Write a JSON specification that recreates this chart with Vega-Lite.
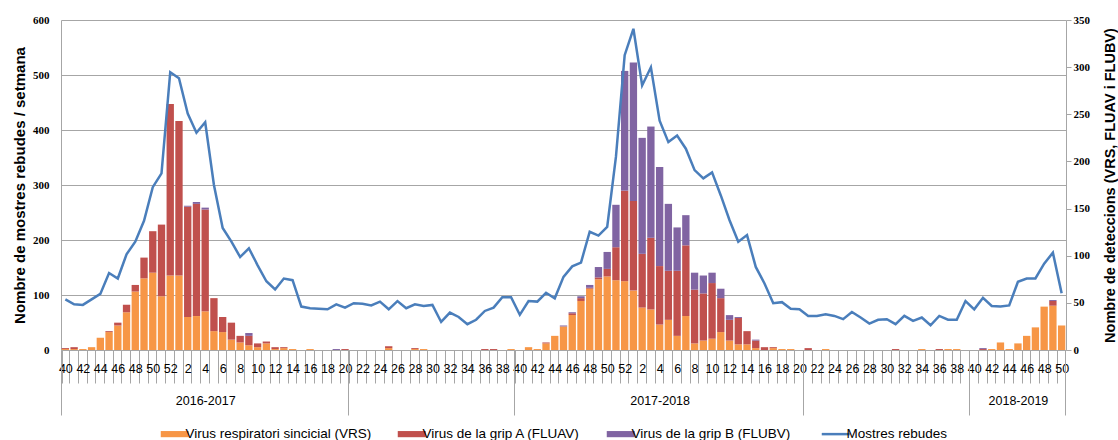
{
  "$schema": "https://vega.github.io/schema/vega-lite/v6.json",
  "width": 1005,
  "height": 330,
  "autosize": {"type": "none"},
  "padding": {"left": 61, "top": 20, "right": 52, "bottom": 90},
  "background": "white",
  "config": {
    "view": {"stroke": null},
    "font": "Liberation Sans",
    "axis": {"labelColor": "#000", "titleColor": "#000"}
  },
  "data": {
    "values": [
      {"k": "2016-40", "m": 92, "VRS": 1, "gripA": 1, "gripB": 0},
      {"k": "2016-41", "m": 83, "VRS": 1, "gripA": 2, "gripB": 0},
      {"k": "2016-42", "m": 82, "VRS": 1, "gripA": 0, "gripB": 0},
      {"k": "2016-43", "m": 92, "VRS": 3, "gripA": 0, "gripB": 0},
      {"k": "2016-44", "m": 102, "VRS": 13, "gripA": 0, "gripB": 0},
      {"k": "2016-45", "m": 140, "VRS": 19, "gripA": 1, "gripB": 0},
      {"k": "2016-46", "m": 130, "VRS": 26, "gripA": 3, "gripB": 0},
      {"k": "2016-47", "m": 174, "VRS": 40, "gripA": 8, "gripB": 0},
      {"k": "2016-48", "m": 197, "VRS": 62, "gripA": 7, "gripB": 0},
      {"k": "2016-49", "m": 235, "VRS": 76, "gripA": 22, "gripB": 0},
      {"k": "2016-50", "m": 296, "VRS": 82, "gripA": 44, "gripB": 0},
      {"k": "2016-51", "m": 321, "VRS": 57, "gripA": 76, "gripB": 0},
      {"k": "2016-52", "m": 505, "VRS": 79, "gripA": 182, "gripB": 0},
      {"k": "2017-01", "m": 494, "VRS": 79, "gripA": 164, "gripB": 0},
      {"k": "2017-02", "m": 430, "VRS": 35, "gripA": 117, "gripB": 1},
      {"k": "2017-03", "m": 395, "VRS": 36, "gripA": 119, "gripB": 2},
      {"k": "2017-04", "m": 414, "VRS": 41, "gripA": 108, "gripB": 2},
      {"k": "2017-05", "m": 300, "VRS": 20, "gripA": 35, "gripB": 0},
      {"k": "2017-06", "m": 222, "VRS": 19, "gripA": 16, "gripB": 0},
      {"k": "2017-07", "m": 197, "VRS": 11, "gripA": 18, "gripB": 0},
      {"k": "2017-08", "m": 169, "VRS": 8, "gripA": 7, "gripB": 0},
      {"k": "2017-09", "m": 185, "VRS": 5, "gripA": 10, "gripB": 3},
      {"k": "2017-10", "m": 154, "VRS": 3, "gripA": 4, "gripB": 0},
      {"k": "2017-11", "m": 125, "VRS": 7, "gripA": 2, "gripB": 0},
      {"k": "2017-12", "m": 110, "VRS": 1, "gripA": 2, "gripB": 0},
      {"k": "2017-13", "m": 130, "VRS": 2, "gripA": 1, "gripB": 0},
      {"k": "2017-14", "m": 127, "VRS": 1, "gripA": 0, "gripB": 0},
      {"k": "2017-15", "m": 79, "VRS": 0, "gripA": 0, "gripB": 0},
      {"k": "2017-16", "m": 76, "VRS": 1, "gripA": 0, "gripB": 0},
      {"k": "2017-17", "m": 75, "VRS": 0, "gripA": 0, "gripB": 0},
      {"k": "2017-18", "m": 74, "VRS": 0, "gripA": 0, "gripB": 0},
      {"k": "2017-19", "m": 83, "VRS": 0, "gripA": 0, "gripB": 1},
      {"k": "2017-20", "m": 77, "VRS": 0, "gripA": 1, "gripB": 0},
      {"k": "2017-21", "m": 85, "VRS": 0, "gripA": 0, "gripB": 0},
      {"k": "2017-22", "m": 84, "VRS": 0, "gripA": 0, "gripB": 0},
      {"k": "2017-23", "m": 81, "VRS": 0, "gripA": 0, "gripB": 0},
      {"k": "2017-24", "m": 88, "VRS": 0, "gripA": 0, "gripB": 0},
      {"k": "2017-25", "m": 74, "VRS": 2, "gripA": 2, "gripB": 0},
      {"k": "2017-26", "m": 89, "VRS": 0, "gripA": 0, "gripB": 0},
      {"k": "2017-27", "m": 76, "VRS": 0, "gripA": 0, "gripB": 0},
      {"k": "2017-28", "m": 83, "VRS": 1, "gripA": 1, "gripB": 0},
      {"k": "2017-29", "m": 80, "VRS": 1, "gripA": 0, "gripB": 0},
      {"k": "2017-30", "m": 82, "VRS": 0, "gripA": 0, "gripB": 0},
      {"k": "2017-31", "m": 51, "VRS": 0, "gripA": 0, "gripB": 0},
      {"k": "2017-32", "m": 68, "VRS": 0, "gripA": 0, "gripB": 0},
      {"k": "2017-33", "m": 60, "VRS": 0, "gripA": 0, "gripB": 0},
      {"k": "2017-34", "m": 47, "VRS": 0, "gripA": 0, "gripB": 0},
      {"k": "2017-35", "m": 55, "VRS": 0, "gripA": 0, "gripB": 0},
      {"k": "2017-36", "m": 71, "VRS": 0, "gripA": 1, "gripB": 0},
      {"k": "2017-37", "m": 77, "VRS": 0, "gripA": 1, "gripB": 0},
      {"k": "2017-38", "m": 96, "VRS": 0, "gripA": 0, "gripB": 0},
      {"k": "2017-39", "m": 96, "VRS": 1, "gripA": 0, "gripB": 0},
      {"k": "2017-40", "m": 64, "VRS": 0, "gripA": 0, "gripB": 0},
      {"k": "2017-41", "m": 89, "VRS": 3, "gripA": 0, "gripB": 0},
      {"k": "2017-42", "m": 88, "VRS": 1, "gripA": 0, "gripB": 0},
      {"k": "2017-43", "m": 104, "VRS": 7, "gripA": 1, "gripB": 0},
      {"k": "2017-44", "m": 94, "VRS": 15, "gripA": 0, "gripB": 0},
      {"k": "2017-45", "m": 133, "VRS": 25, "gripA": 0, "gripB": 1},
      {"k": "2017-46", "m": 152, "VRS": 37, "gripA": 2, "gripB": 1},
      {"k": "2017-47", "m": 159, "VRS": 52, "gripA": 3, "gripB": 2},
      {"k": "2017-48", "m": 215, "VRS": 65, "gripA": 1, "gripB": 3},
      {"k": "2017-49", "m": 208, "VRS": 75, "gripA": 2, "gripB": 11},
      {"k": "2017-50", "m": 224, "VRS": 78, "gripA": 8, "gripB": 18},
      {"k": "2017-51", "m": 351, "VRS": 74, "gripA": 35, "gripB": 45},
      {"k": "2017-52", "m": 536, "VRS": 73, "gripA": 96, "gripB": 127},
      {"k": "2018-01", "m": 584, "VRS": 63, "gripA": 95, "gripB": 147},
      {"k": "2018-02", "m": 481, "VRS": 45, "gripA": 57, "gripB": 123},
      {"k": "2018-03", "m": 514, "VRS": 43, "gripA": 76, "gripB": 118},
      {"k": "2018-04", "m": 417, "VRS": 27, "gripA": 62, "gripB": 105},
      {"k": "2018-05", "m": 378, "VRS": 32, "gripA": 52, "gripB": 71},
      {"k": "2018-06", "m": 390, "VRS": 15, "gripA": 69, "gripB": 46},
      {"k": "2018-07", "m": 366, "VRS": 36, "gripA": 75, "gripB": 32},
      {"k": "2018-08", "m": 327, "VRS": 7, "gripA": 57, "gripB": 18},
      {"k": "2018-09", "m": 312, "VRS": 10, "gripA": 50, "gripB": 19},
      {"k": "2018-10", "m": 323, "VRS": 12, "gripA": 59, "gripB": 11},
      {"k": "2018-11", "m": 281, "VRS": 19, "gripA": 36, "gripB": 10},
      {"k": "2018-12", "m": 236, "VRS": 10, "gripA": 22, "gripB": 5},
      {"k": "2018-13", "m": 197, "VRS": 6, "gripA": 28, "gripB": 1},
      {"k": "2018-14", "m": 209, "VRS": 6, "gripA": 14, "gripB": 0},
      {"k": "2018-15", "m": 151, "VRS": 2, "gripA": 8, "gripB": 1},
      {"k": "2018-16", "m": 121, "VRS": 0, "gripA": 3, "gripB": 0},
      {"k": "2018-17", "m": 85, "VRS": 2, "gripA": 1, "gripB": 0},
      {"k": "2018-18", "m": 87, "VRS": 1, "gripA": 0, "gripB": 0},
      {"k": "2018-19", "m": 75, "VRS": 1, "gripA": 0, "gripB": 0},
      {"k": "2018-20", "m": 74, "VRS": 0, "gripA": 0, "gripB": 0},
      {"k": "2018-21", "m": 62, "VRS": 0, "gripA": 2, "gripB": 0},
      {"k": "2018-22", "m": 62, "VRS": 0, "gripA": 0, "gripB": 0},
      {"k": "2018-23", "m": 65, "VRS": 1, "gripA": 0, "gripB": 0},
      {"k": "2018-24", "m": 62, "VRS": 0, "gripA": 0, "gripB": 0},
      {"k": "2018-25", "m": 56, "VRS": 0, "gripA": 0, "gripB": 0},
      {"k": "2018-26", "m": 69, "VRS": 0, "gripA": 0, "gripB": 0},
      {"k": "2018-27", "m": 59, "VRS": 0, "gripA": 0, "gripB": 0},
      {"k": "2018-28", "m": 48, "VRS": 0, "gripA": 0, "gripB": 0},
      {"k": "2018-29", "m": 55, "VRS": 0, "gripA": 0, "gripB": 0},
      {"k": "2018-30", "m": 56, "VRS": 0, "gripA": 0, "gripB": 0},
      {"k": "2018-31", "m": 47, "VRS": 0, "gripA": 1, "gripB": 0},
      {"k": "2018-32", "m": 62, "VRS": 0, "gripA": 0, "gripB": 0},
      {"k": "2018-33", "m": 53, "VRS": 0, "gripA": 0, "gripB": 0},
      {"k": "2018-34", "m": 59, "VRS": 1, "gripA": 0, "gripB": 0},
      {"k": "2018-35", "m": 45, "VRS": 0, "gripA": 0, "gripB": 0},
      {"k": "2018-36", "m": 62, "VRS": 0, "gripA": 1, "gripB": 0},
      {"k": "2018-37", "m": 55, "VRS": 1, "gripA": 0, "gripB": 0},
      {"k": "2018-38", "m": 55, "VRS": 1, "gripA": 0, "gripB": 0},
      {"k": "2018-39", "m": 89, "VRS": 0, "gripA": 0, "gripB": 0},
      {"k": "2018-40", "m": 74, "VRS": 0, "gripA": 0, "gripB": 0},
      {"k": "2018-41", "m": 95, "VRS": 0, "gripA": 1, "gripB": 1},
      {"k": "2018-42", "m": 80, "VRS": 1, "gripA": 0, "gripB": 0},
      {"k": "2018-43", "m": 79, "VRS": 8, "gripA": 0, "gripB": 0},
      {"k": "2018-44", "m": 81, "VRS": 1, "gripA": 0, "gripB": 0},
      {"k": "2018-45", "m": 124, "VRS": 7, "gripA": 0, "gripB": 0},
      {"k": "2018-46", "m": 130, "VRS": 15, "gripA": 0, "gripB": 0},
      {"k": "2018-47", "m": 130, "VRS": 24, "gripA": 0, "gripB": 0},
      {"k": "2018-48", "m": 157, "VRS": 46, "gripA": 0, "gripB": 0},
      {"k": "2018-49", "m": 177, "VRS": 47, "gripA": 5, "gripB": 1},
      {"k": "2018-50", "m": 103, "VRS": 26, "gripA": 0, "gripB": 0}
    ]
  },
  "layer": [
    {
      "transform": [{"fold": ["VRS", "gripA", "gripB"], "as": ["serie", "n"]}],
      "mark": {"type": "bar"},
      "encoding": {
        "x": {
          "field": "k",
          "type": "ordinal",
          "title": null,
          "scale": {"paddingInner": 0.16, "paddingOuter": 0.08},
          "axis": {
            "orient": "bottom",
            "tickBand": "extent",
            "tickSize": 33,
            "tickColor": "#a6a6a6",
            "domainColor": "#a6a6a6",
            "grid": false,
            "labelAngle": 0,
            "labelOverlap": false,
            "labelBound": false,
            "labelFont": "Liberation Sans",
            "labelFontSize": 12.5,
            "labelLineHeight": 32.5,
            "labelPadding": -21,
            "labelExpr": "!datum.value ? '' : datum.value === '2017-04' ? ['4', '2016-2017'] : datum.value === '2018-04' ? ['4', '2017-2018'] : datum.value === '2018-45' ? ['\u00a0', '2018-2019'] : (parseInt(slice(datum.value, 5)) % 2 === 0 ? '' + parseInt(slice(datum.value, 5)) : '')"
          }
        },
        "y": {
          "field": "n",
          "type": "quantitative",
          "stack": "zero",
          "scale": {"domain": [0, 350]},
          "axis": {
            "orient": "right",
            "values": [0, 50, 100, 150, 200, 250, 300, 350],
            "grid": false,
            "tickSize": 5,
            "tickColor": "#a6a6a6",
            "domainColor": "#a6a6a6",
            "labelFont": "Liberation Serif",
            "labelFontWeight": "bold",
            "labelFontSize": 11,
            "labelPadding": 2,
            "title": "Nombre de deteccions (VRS, FLUAV i FLUBV)",
            "titleFont": "Liberation Sans",
            "titleFontSize": 14.5,
            "titleFontWeight": "bold",
            "titleAngle": 270,
            "titleBaseline": "top",
            "titlePadding": 14
          }
        },
        "color": {
          "field": "serie",
          "type": "nominal",
          "scale": {
            "domain": ["VRS", "gripA", "gripB", "Mostres rebudes"],
            "range": ["#F79646", "#C0504D", "#8064A2", "#4A7EBB"]
          },
          "legend": {
            "orient": "none",
            "legendX": 107,
            "legendY": 407,
            "direction": "horizontal",
            "columns": 4,
            "columnPadding": 25,
            "padding": 0,
            "title": null,
            "labelFont": "Liberation Sans",
            "labelFontSize": 13.5,
            "labelColor": "#000",
            "labelOffset": 4,
            "labelLimit": 400,
            "symbolSize": 784,
            "labelExpr": "datum.value === 'VRS' ? 'Virus respiratori sincicial (VRS)' : datum.value === 'gripA' ? 'Virus de la grip A (FLUAV)' : datum.value === 'gripB' ? 'Virus de la grip B (FLUBV)' : datum.value",
            "encode": {
              "symbols": {
                "update": {
                  "shape": {"signal": "datum.value === 'Mostres rebudes' ? 'stroke' : 'M-1,-0.22H1V0.22H-1Z'"},
                  "strokeWidth": {"signal": "datum.value === 'Mostres rebudes' ? 2.5 : 0"},
                  "fill": {"scale": "color", "field": "value"},
                  "stroke": {"scale": "color", "field": "value"},
                  "opacity": {"value": 1}
                }
              }
            }
          }
        },
        "order": {"field": "serie", "sort": "ascending"}
      }
    },
    {
      "mark": {"type": "line", "strokeWidth": 2.5},
      "encoding": {
        "x": {
          "field": "k",
          "type": "ordinal",
          "title": null,
          "axis": {
            "orient": "bottom",
            "values": ["2016-40", "2017-20", "2017-39", "2018-20", "2018-39", "2018-50"],
            "bandPosition": 1,
            "tickExtra": true,
            "tickSize": 65,
            "tickColor": "#a6a6a6",
            "tickOpacity": {"condition": {"test": "datum.value === '2016-40'", "value": 0}, "value": 1},
            "labels": false,
            "domain": false,
            "grid": false
          }
        },
        "y": {
          "field": "m",
          "type": "quantitative",
          "scale": {"domain": [0, 600]},
          "axis": {
            "orient": "left",
            "values": [0, 100, 200, 300, 400, 500, 600],
            "grid": true,
            "gridColor": "#a6a6a6",
            "ticks": false,
            "domainColor": "#a6a6a6",
            "labelFont": "Liberation Serif",
            "labelFontWeight": "bold",
            "labelFontSize": 11,
            "labelPadding": 12,
            "title": "Nombre de mostres rebudes / setmana",
            "titleFont": "Liberation Sans",
            "titleFontSize": 15,
            "titleFontWeight": "bold",
            "titlePadding": 5
          }
        },
        "color": {"datum": "Mostres rebudes", "type": "nominal"}
      }
    }
  ],
  "resolve": {"scale": {"y": "independent"}, "axis": {"x": "independent"}}
}
